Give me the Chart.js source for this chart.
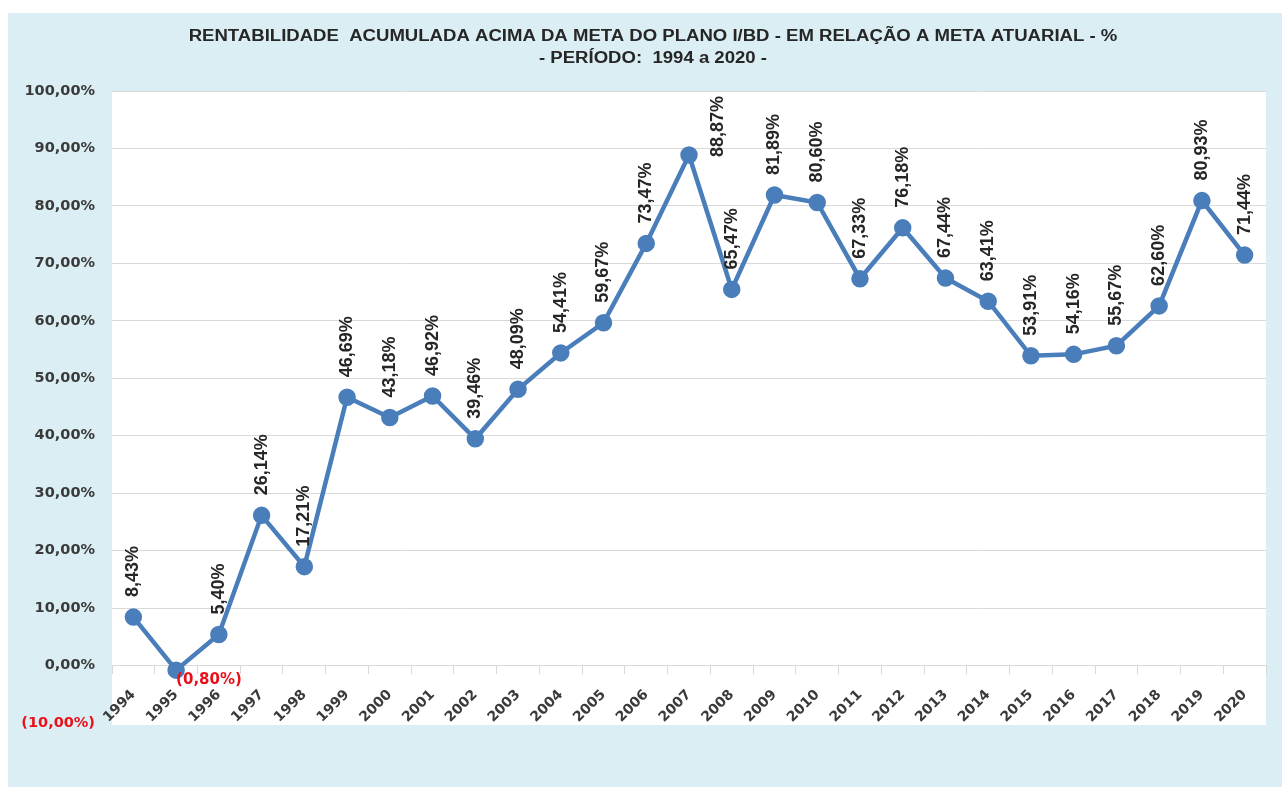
<!DOCTYPE html>
<html>
<head>
<meta charset="utf-8">
<script src="https://cdn.jsdelivr.net/npm/chart.js@4/dist/chart.umd.min.js"></script>
<style>
  html, body { margin: 0; padding: 0; background: #ffffff; }
  canvas { display: block; }
</style>
</head>
<body>
<canvas id="chart" width="1282" height="787"></canvas>
<script>
// Accumulated return above the plan's actuarial target, 1994-2020 (%)
const years = ['1994','1995','1996','1997','1998','1999','2000','2001','2002','2003',
               '2004','2005','2006','2007','2008','2009','2010','2011','2012','2013',
               '2014','2015','2016','2017','2018','2019','2020'];
const rentabilidade = [8.43, -0.80, 5.40, 26.14, 17.21, 46.69, 43.18, 46.92, 39.46, 48.09,
                       54.41, 59.67, 73.47, 88.87, 65.47, 81.89, 80.60, 67.33, 76.18, 67.44,
                       63.41, 53.91, 54.16, 55.67, 62.60, 80.93, 71.44];
const yMin = -10;
const yMax = 100;
const yStep = 10;
const titleLines = [
  'RENTABILIDADE  ACUMULADA ACIMA DA META DO PLANO I/BD - EM RELAÇÃO A META ATUARIAL - %',
  '- PERÍODO:  1994 a 2020 -'
];

const LINE_BLUE = '#4a7ebb';
const TEXT_DARK = '#262626';
const TICK_GRAY = '#3a3a3a';
const NEG_RED = '#e8111b';
const PANEL_BG = '#daeef3';
const GRID = '#d9d9d9';

// Brazilian-style percent text; negatives shown in parentheses
function pct(v) {
  const s = Math.abs(v).toFixed(2).replace('.', ',') + '%';
  return v < 0 ? '(' + s + ')' : s;
}

// Light-blue panel behind everything, white plot area on top of it
const panelBackground = {
  id: 'panelBackground',
  beforeDraw(chart) {
    const { ctx, chartArea: a, width, height } = chart;
    ctx.save();
    ctx.fillStyle = '#ffffff';
    ctx.fillRect(0, 0, width, height);
    ctx.fillStyle = PANEL_BG;
    ctx.fillRect(8, 13, width - 8, height - 13);
    ctx.fillStyle = '#ffffff';
    ctx.fillRect(a.left, a.top, a.right - a.left, a.bottom - a.top + 2);
    ctx.restore();
  }
};

// Two-line heading in a wide bold face, centred over the plot
const wideTitle = {
  id: 'wideTitle',
  afterDraw(chart, args, opts) {
    const { ctx } = chart;
    const cx = 653;
    ctx.save();
    ctx.font = 'bold 16px "Liberation Sans", Arial, sans-serif';
    ctx.fillStyle = TEXT_DARK;
    ctx.textAlign = 'center';
    ctx.textBaseline = 'middle';
    opts.lines.forEach((line, i) => {
      ctx.save();
      ctx.translate(cx, opts.firstY + i * opts.lineGap);
      ctx.scale(opts.stretch, 1);
      ctx.fillText(line, 0, 0);
      ctx.restore();
    });
    ctx.restore();
  }
};

// Vertical value labels above each point; negatives horizontal in red
const valueLabels = {
  id: 'valueLabels',
  afterDatasetsDraw(chart) {
    const { ctx, chartArea: a } = chart;
    const meta = chart.getDatasetMeta(0);
    const values = chart.data.datasets[0].data;
    ctx.save();
    meta.data.forEach((pt, i) => {
      const v = values[i];
      const text = pct(v);
      if (v < 0) {
        ctx.font = 'bold 15px "DejaVu Sans", sans-serif';
        ctx.fillStyle = NEG_RED;
        ctx.textAlign = 'left';
        ctx.textBaseline = 'middle';
        ctx.fillText(text, pt.x, pt.y + 10);
        return;
      }
      ctx.font = 'bold 18px "Liberation Sans", Arial, sans-serif';
      const w = ctx.measureText(text).width;
      let x = pt.x;
      let start = pt.y - 20;
      if (start - w < a.top + 2) {
        // no room above: put it beside the point instead
        x = pt.x + 29;
        start = pt.y + 2;
      }
      ctx.fillStyle = TEXT_DARK;
      ctx.save();
      ctx.translate(x, start);
      ctx.rotate(-Math.PI / 2);
      ctx.textAlign = 'left';
      ctx.textBaseline = 'middle';
      ctx.fillText(text, 0, 0);
      ctx.restore();
    });
    ctx.restore();
  }
};

new Chart(document.getElementById('chart'), {
  type: 'line',
  data: {
    labels: years,
    datasets: [{
      data: rentabilidade,
      borderColor: LINE_BLUE,
      backgroundColor: LINE_BLUE,
      borderWidth: 4.5,
      pointRadius: 6.5,
      pointBackgroundColor: LINE_BLUE,
      pointBorderColor: LINE_BLUE,
      tension: 0,
      clip: false
    }]
  },
  options: {
    responsive: false,
    animation: false,
    events: [],
    layout: { padding: { top: 91, left: 0, right: 16, bottom: 64 } },
    plugins: {
      legend: { display: false },
      tooltip: { enabled: false },
      title: { display: false },
      wideTitle: { lines: titleLines, firstY: 37, lineGap: 22, stretch: 1.16 }
    },
    scales: {
      x: {
        position: { y: 0 },
        offset: true,
        grid: {
          display: true,
          drawOnChartArea: false,
          drawTicks: true,
          tickLength: 8,
          color: GRID,
          offset: true
        },
        border: { display: true, color: GRID },
        ticks: {
          autoSkip: false,
          minRotation: 45,
          maxRotation: 45,
          padding: 13,
          color: TICK_GRAY,
          font: { family: '"DejaVu Sans", sans-serif', size: 14, weight: 'bold' }
        }
      },
      y: {
        min: yMin,
        max: yMax,
        afterFit(scale) { scale.width = 112; },
        grid: {
          color: (c) => (c.tick && c.tick.value === yMin) ? 'rgba(0,0,0,0)' : GRID,
          drawTicks: false
        },
        border: { display: false },
        ticks: {
          stepSize: yStep,
          padding: 17,
          color: (c) => (c.tick && c.tick.value < 0) ? NEG_RED : TICK_GRAY,
          font: { family: '"DejaVu Sans", sans-serif', size: 14.5, weight: 'bold' },
          callback: (v) => pct(v)
        }
      }
    }
  },
  plugins: [panelBackground, valueLabels, wideTitle]
});
</script>
</body>
</html>
